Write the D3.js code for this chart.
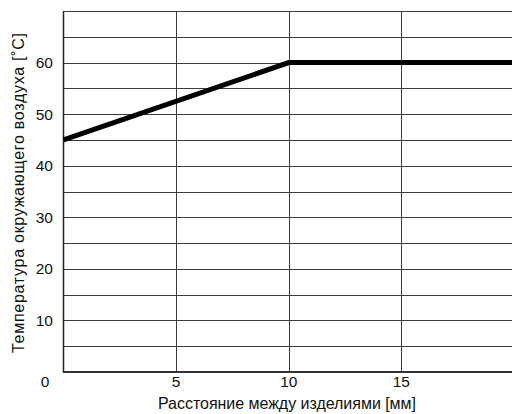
<!DOCTYPE html>
<html><head><meta charset="utf-8">
<script src="https://cdn.jsdelivr.net/npm/d3@7"></script>
<style>body{margin:0;background:#fff}svg{display:block}text{font-family:"Liberation Sans",Arial,sans-serif;fill:#111}</style>
</head><body>
<script>
const distance = [0, 10, 20];
const temperature = [45, 60, 60];
const xTicks = [5, 10, 15];
const yTicks = [10, 20, 30, 40, 50, 60];
const yGrid = [5, 10, 15, 20, 25, 30, 35, 40, 45, 50, 55, 60, 65, 70];
const xTitle = "Расстояние между изделиями [мм]";
const yTitle = "Температура окружающего воздуха [˚C]";

const W = 512, H = 414;
const svg = d3.select("body").append("svg").attr("width", W).attr("height", H);
const x = d3.scaleLinear().domain([0, 20]).range([63.5, 514]);
const y = d3.scaleLinear().domain([0, 70]).range([372, 11]);

// grid
svg.append("g").selectAll("line").data(yGrid).join("line")
  .attr("x1", x(0)).attr("x2", W).attr("y1", d => Math.round(y(d)) + 0.5).attr("y2", d => Math.round(y(d)) + 0.5)
  .attr("stroke", "#3c3c3c").attr("stroke-width", 1);
svg.append("g").selectAll("line").data(xTicks).join("line")
  .attr("y1", y(70)).attr("y2", y(0)).attr("x1", d => Math.round(x(d)) + 0.5).attr("x2", d => Math.round(x(d)) + 0.5)
  .attr("stroke", "#3c3c3c").attr("stroke-width", 1);

// axes lines
svg.append("line").attr("x1", x(0)).attr("x2", x(0)).attr("y1", y(70)).attr("y2", y(0))
  .attr("stroke", "#222").attr("stroke-width", 1.5);
svg.append("line").attr("x1", x(0) - 0.75).attr("x2", W).attr("y1", y(0)).attr("y2", y(0))
  .attr("stroke", "#333").attr("stroke-width", 2);

const fs = 15.5;
// y tick labels
svg.append("g").selectAll("text").data(yTicks).join("text")
  .attr("x", 53).attr("y", d => y(d)).attr("dy", "0.35em").attr("text-anchor", "end")
  .attr("font-size", fs).text(d => d);
// x tick labels
svg.append("g").selectAll("text").data(xTicks).join("text")
  .attr("x", d => x(d)).attr("y", 382).attr("dy", "0.35em").attr("text-anchor", "middle")
  .attr("font-size", fs).text(d => d);
// origin
svg.append("text").attr("x", 45).attr("y", 382).attr("dy", "0.35em").attr("text-anchor", "middle")
  .attr("font-size", fs).text(0);

// titles
svg.append("text").attr("x", 287).attr("y", 403).attr("dy", "0.35em").attr("text-anchor", "middle")
  .attr("font-size", 16).attr("textLength", 258).attr("lengthAdjust", "spacing").text(xTitle);
svg.append("text").attr("transform", "translate(18,193) rotate(-90)").attr("dy", "0.35em")
  .attr("text-anchor", "middle").attr("font-size", 16)
  .attr("textLength", 320).attr("lengthAdjust", "spacing").text(yTitle);

// data line
const line = d3.line().x((d, i) => x(distance[i])).y(d => y(d));
svg.append("path").datum(temperature).attr("d", line)
  .attr("fill", "none").attr("stroke", "#000").attr("stroke-width", 5);
</script>
</body></html>
